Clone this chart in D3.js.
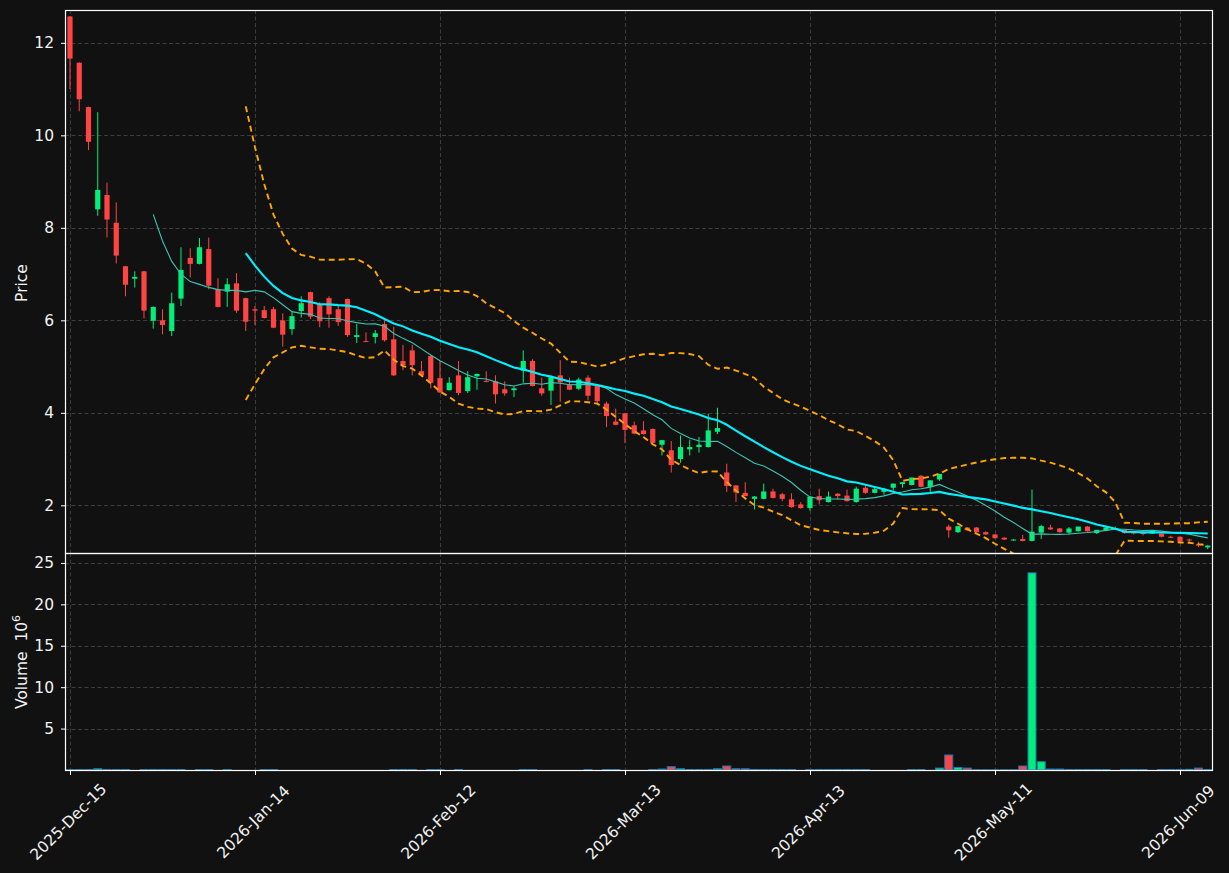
<!DOCTYPE html>
<html>
<head>
<meta charset="utf-8">
<script src="https://cdn.jsdelivr.net/npm/d3@7/dist/d3.min.js"></script>
<style>
  html, body { margin: 0; padding: 0; background: #111111; }
  svg { display: block; }
  text { font-family: "DejaVu Sans", sans-serif; }
</style>
</head>
<body>
<svg id="chart" width="1229" height="873"></svg>
<script>
// ---------------- DATA ----------------
const opens = [12.57,11.57,10.61,8.40,8.71,8.11,7.17,6.90,7.06,5.99,
 6.00,5.77,6.47,7.35,7.22,7.54,6.67,6.62,6.80,6.48,
 6.24,6.22,6.24,6.00,5.81,6.20,6.61,6.35,6.48,6.24,
 6.46,5.64,5.55,5.64,5.92,5.59,5.12,5.35,4.90,5.23,
 4.75,4.49,4.81,4.47,4.79,4.69,4.68,4.51,4.49,4.91,
 5.12,4.53,4.48,4.81,4.60,4.52,4.76,4.58,4.20,3.81,
 3.99,3.73,3.62,3.65,3.31,3.19,3.00,3.21,3.26,3.26,
 3.59,2.71,2.43,2.27,2.14,2.14,2.30,2.24,2.13,2.02,
 1.94,2.20,2.07,2.25,2.21,2.07,2.38,2.27,2.29,2.38,
 2.46,2.44,2.64,2.40,2.56,1.54,1.42,1.52,1.52,1.42,
 1.37,1.30,1.25,1.27,1.23,1.41,1.52,1.50,1.41,1.44,
 1.54,1.40,1.46,1.50,1.47,1.43,1.40,1.39,1.39,1.32,
 1.32,1.26,1.16,1.09];

const highs = [12.58,11.58,10.62,10.50,8.98,8.55,7.18,7.06,7.07,6.30,
 6.24,6.60,7.58,7.56,7.78,7.79,6.91,6.91,7.02,6.49,
 6.31,6.31,6.29,6.15,6.20,6.52,6.62,6.39,6.52,6.31,
 6.47,5.92,5.74,5.79,6.00,5.86,5.47,5.47,5.12,5.24,
 5.12,4.77,5.12,4.90,4.85,4.90,4.81,4.68,4.58,5.35,
 5.16,4.76,4.81,5.14,4.76,4.76,4.81,4.59,4.24,4.09,
 4.00,3.81,3.82,3.66,3.41,3.39,3.51,3.42,3.48,3.98,
 4.11,2.90,2.44,2.50,2.20,2.47,2.36,2.27,2.26,2.07,
 2.19,2.36,2.30,2.27,2.34,2.40,2.43,2.38,2.38,2.47,
 2.50,2.60,2.65,2.54,2.68,1.58,1.56,1.53,1.53,1.44,
 1.38,1.31,1.27,1.36,2.34,1.58,1.58,1.51,1.53,1.54,
 1.55,1.47,1.55,1.54,1.48,1.44,1.44,1.46,1.40,1.34,
 1.33,1.28,1.21,1.13];

const lows = [11.00,10.52,9.68,8.26,7.79,7.23,6.52,6.71,6.04,5.82,
 5.70,5.66,6.31,6.93,7.21,6.67,6.28,6.29,6.16,5.77,
 5.90,6.04,5.83,5.43,5.69,6.06,6.03,5.85,5.84,5.88,
 5.64,5.51,5.53,5.50,5.54,4.80,4.92,4.81,4.78,4.53,
 4.43,4.48,4.38,4.43,4.50,4.66,4.20,4.37,4.34,4.65,
 4.57,4.37,4.17,4.24,4.49,4.49,4.27,4.20,3.69,3.73,
 3.35,3.54,3.53,3.34,3.08,2.71,2.92,3.08,3.14,3.25,
 3.54,2.29,2.07,2.19,1.91,2.13,2.15,2.09,1.95,1.93,
 1.88,2.02,2.06,2.13,2.08,2.06,2.25,2.26,2.23,2.32,
 2.38,2.43,2.39,2.25,2.53,1.30,1.40,1.45,1.41,1.36,
 1.28,1.25,1.24,1.22,1.22,1.27,1.47,1.41,1.37,1.43,
 1.43,1.38,1.44,1.47,1.39,1.37,1.35,1.38,1.31,1.29,
 1.21,1.19,1.10,1.05];

const closes = [11.66,10.78,9.86,8.82,8.18,7.40,6.77,6.94,6.21,6.29,
 5.90,6.37,7.09,7.22,7.58,6.75,6.29,6.78,6.21,5.97,
 6.21,6.05,5.84,5.69,6.09,6.37,6.08,5.98,6.13,5.96,
 5.68,5.68,5.54,5.72,5.57,4.81,5.03,5.03,4.81,4.65,
 4.44,4.65,4.43,4.77,4.84,4.67,4.40,4.42,4.53,5.12,
 4.58,4.42,4.77,4.66,4.50,4.72,4.37,4.25,3.93,3.74,
 3.63,3.55,3.54,3.35,3.41,2.87,3.26,3.26,3.31,3.62,
 3.67,2.42,2.28,2.20,2.19,2.30,2.16,2.14,1.96,1.94,
 2.19,2.11,2.19,2.20,2.09,2.36,2.27,2.35,2.35,2.47,
 2.50,2.60,2.40,2.54,2.68,1.46,1.55,1.46,1.42,1.37,
 1.29,1.26,1.26,1.23,1.43,1.55,1.48,1.42,1.50,1.54,
 1.44,1.47,1.52,1.51,1.40,1.39,1.38,1.46,1.32,1.30,
 1.21,1.24,1.13,1.13];

// volume in millions
const volumes = [0.05,0.05,0.05,0.15,0.05,0.05,0.05,0,0.05,0.05,
 0.05,0.05,0.05,0,0.05,0.05,0,0.04,0,0,
 0,0.05,0.05,0,0,0,0,0,0,0,
 0,0,0,0,0,0.05,0.05,0.05,0,0.05,
 0.05,0,0.05,0,0,0,0,0,0,0.05,
 0.05,0,0,0,0,0,0.05,0,0.05,0.05,
 0,0,0,0.05,0.12,0.40,0.15,0.05,0.05,0.05,
 0.15,0.48,0.15,0.15,0.05,0.05,0.05,0.05,0.05,0,
 0.05,0.05,0.05,0.05,0.05,0.05,0.05,0,0,0,
 0,0.05,0.05,0,0.23,1.81,0.31,0.23,0.02,0.02,
 0.02,0.02,0.02,0.48,23.8,1.0,0.12,0.12,0.05,0.05,
 0.05,0.05,0.05,0,0.05,0.05,0.05,0,0.05,0.05,
 0.05,0.08,0.23,0.05];

const tickIndex = [0,20,40,60,80,100,120];
const tickLabels = ["2025-Dec-15","2026-Jan-14","2026-Feb-12","2026-Mar-13","2026-Apr-13","2026-May-11","2026-Jun-09"];
const priceTicks = [2,4,6,8,10,12];
const volumeTicks = [5,10,15,20,25];
const maShort = 10, maLong = 20, bbK = 2;

// ---------------- STYLE ----------------
const UP = "#00ee7a", DOWN = "#ff4444", EDGE = "#1f77b4";
const GRID = "#3c3c3c", FG = "#f2f2f2";
const FS = "15.5px";

const n = closes.length;
const idx = d3.range(n);

// indicators derived from the closes
function rollingMean(arr, w) {
  return arr.map((_, i) => i < w - 1 ? null : d3.mean(arr.slice(i - w + 1, i + 1)));
}
function rollingStd(arr, w) {
  return arr.map((_, i) => {
    if (i < w - 1) return null;
    const s = arr.slice(i - w + 1, i + 1), m = d3.mean(s);
    return Math.sqrt(d3.mean(s, v => (v - m) * (v - m)));
  });
}
const ma10 = rollingMean(closes, maShort);
const ma20 = rollingMean(closes, maLong);
const sd20 = rollingStd(closes, maLong);
const bbUp = ma20.map((m, i) => m == null ? null : m + bbK * sd20[i]);
const bbLo = ma20.map((m, i) => m == null ? null : m - bbK * sd20[i]);

// ---------------- LAYOUT ----------------
const L = 65, R = 1212, PT = 10, PB = 553, VB = 770;
const svg = d3.select("#chart");
svg.append("rect").attr("width", 1229).attr("height", 873).attr("fill", "#111111");

const x = d3.scaleLinear().domain([-0.54, n - 0.54]).range([L, R]);
const yP = d3.scaleLinear().domain([0.98, 12.71]).range([552.5, PT]);
const yV = d3.scaleLinear().domain([0, 26.2]).range([VB, PB]);

const defs = svg.append("defs");
defs.append("clipPath").attr("id", "clipP").append("rect")
  .attr("x", L).attr("y", PT).attr("width", R - L).attr("height", PB - PT);
defs.append("clipPath").attr("id", "clipV").append("rect")
  .attr("x", L).attr("y", PB).attr("width", R - L).attr("height", VB - PB);

// grid
const grid = svg.append("g").attr("stroke", GRID).attr("stroke-width", 1).attr("stroke-dasharray", "4,2.5");
priceTicks.forEach(t => grid.append("line").attr("x1", L).attr("x2", R).attr("y1", Math.round(yP(t)) + 0.5).attr("y2", Math.round(yP(t)) + 0.5));
volumeTicks.forEach(t => grid.append("line").attr("x1", L).attr("x2", R).attr("y1", Math.round(yV(t)) + 0.5).attr("y2", Math.round(yV(t)) + 0.5));
tickIndex.forEach(t => {
  const xx = Math.round(x(t)) + 0.5;
  grid.append("line").attr("x1", xx).attr("x2", xx).attr("y1", PT).attr("y2", PB);
  grid.append("line").attr("x1", xx).attr("x2", xx).attr("y1", PB).attr("y2", VB);
});

// candles
const gc = svg.append("g").attr("clip-path", "url(#clipP)");
idx.forEach(i => {
  const col = closes[i] >= opens[i] ? UP : DOWN;
  const cx = x(i);
  gc.append("line").attr("x1", cx).attr("x2", cx)
    .attr("y1", yP(highs[i])).attr("y2", yP(lows[i]))
    .attr("stroke", col).attr("stroke-width", 1);
  const top = yP(Math.max(opens[i], closes[i]));
  const bot = yP(Math.min(opens[i], closes[i]));
  gc.append("rect").attr("x", cx - 2.6).attr("width", 5.2)
    .attr("y", top).attr("height", Math.max(1, bot - top)).attr("fill", col);
});

// lines
const gl = svg.append("g").attr("clip-path", "url(#clipP)").attr("fill", "none");
const line = arr => d3.line().defined(i => arr[i] != null).x(i => x(i)).y(i => yP(arr[i]))(idx);
gl.append("path").attr("d", line(bbUp)).attr("stroke", "#ffa500").attr("stroke-width", 1.9).attr("stroke-dasharray", "6,4");
gl.append("path").attr("d", line(bbLo)).attr("stroke", "#ffa500").attr("stroke-width", 1.9).attr("stroke-dasharray", "6,4");
gl.append("path").attr("d", line(ma10)).attr("stroke", "#3cc4b4").attr("stroke-width", 1.1);
gl.append("path").attr("d", line(ma20)).attr("stroke", "#00f0ff").attr("stroke-width", 2.1);

// volume bars
const gv = svg.append("g").attr("clip-path", "url(#clipV)");
idx.forEach(i => {
  if (volumes[i] <= 0) return;
  const col = closes[i] >= opens[i] ? UP : DOWN;
  const top = yV(volumes[i]);
  gv.append("rect").attr("x", x(i) - 4).attr("width", 8)
    .attr("y", top).attr("height", Math.max(0.5, yV(0) - top))
    .attr("fill", col).attr("stroke", EDGE).attr("stroke-width", 1);
});

// frames
const fr = svg.append("g").attr("fill", "none").attr("stroke", "#ffffff").attr("stroke-width", 1.2);
fr.append("rect").attr("x", L + 0.5).attr("y", PT + 0.5).attr("width", R - L).attr("height", PB - PT);
fr.append("rect").attr("x", L + 0.5).attr("y", PB + 0.5).attr("width", R - L).attr("height", VB - PB);

// axes
function styleAxis(g) {
  g.select(".domain").remove();
  g.selectAll(".tick line").attr("stroke", "#ffffff").attr("stroke-width", 1);
  g.selectAll(".tick text").attr("fill", FG).style("font-size", FS).style("font-family", "DejaVu Sans");
}
svg.append("g").attr("transform", `translate(${L},0)`)
  .call(d3.axisLeft(yP).tickValues(priceTicks).tickFormat(d3.format("d")).tickSize(4).tickPadding(7))
  .call(styleAxis);
svg.append("g").attr("transform", `translate(${L},0)`)
  .call(d3.axisLeft(yV).tickValues(volumeTicks).tickFormat(d3.format("d")).tickSize(4).tickPadding(7))
  .call(styleAxis);

const xa = svg.append("g").attr("transform", `translate(0,${VB})`)
  .call(d3.axisBottom(x).tickValues(tickIndex).tickFormat((d, k) => tickLabels[k]).tickSize(5))
  .call(styleAxis);
xa.selectAll(".tick text")
  .attr("y", 0).attr("dy", null)
  .attr("text-anchor", "middle").attr("dominant-baseline", "central")
  .attr("transform", "translate(-2,52) rotate(-45)");

// axis titles
svg.append("text").attr("transform", "translate(27,283) rotate(-90)")
  .attr("text-anchor", "middle").attr("fill", FG).style("font-size", FS).text("Price");
const vt = svg.append("text").attr("transform", "translate(27,662) rotate(-90)")
  .attr("text-anchor", "middle").attr("fill", FG).style("font-size", FS);
vt.append("tspan").text("Volume\u00a0\u00a010");
vt.append("tspan").attr("dy", -7).style("font-size", "11px").text("6");
</script>
</body>
</html>
